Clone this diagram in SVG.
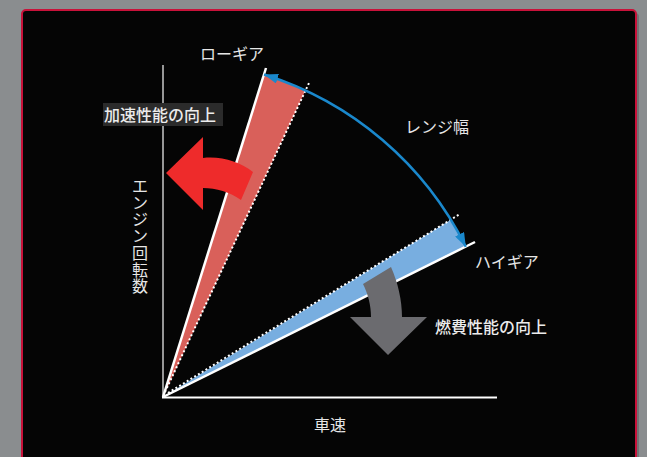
<svg xmlns="http://www.w3.org/2000/svg" width="647" height="457" viewBox="0 0 647 457">
<style>
.t{font-family:"Noto Sans CJK JP","Noto Sans",sans-serif;fill:#e6e6e6;font-size:16px}
.b{font-weight:500;fill:#ececec}
.dot{stroke:#ffffff;stroke-width:2;stroke-dasharray:2 2.4;fill:none}
.wl{stroke:#ffffff;stroke-width:2.5;fill:none}
</style>
<defs>
<marker id="ah" markerUnits="userSpaceOnUse" markerWidth="15" markerHeight="10" refX="14" refY="5" orient="auto-start-reverse">
<path d="M0,0 L14,5 L0,10 Z" fill="#1a88cc"/>
</marker>
</defs>
<rect x="0" y="0" width="647" height="457" fill="#8a8d8f"/>
<rect x="25" y="13" width="614" height="460" rx="4" fill="#707375"/>
<rect x="22" y="10" width="614" height="460" rx="4" fill="#050505" stroke="#c8123a" stroke-width="2"/>

<g id="axes">
<line x1="163" y1="65" x2="163" y2="398" stroke="#c8c8c8" stroke-width="1.5"/>
<line x1="162" y1="397.5" x2="497" y2="397.5" stroke="#ffffff" stroke-width="2"/>
</g>

<g id="low-gear">
<path d="M163,397 L264.1,74.5 A338 338 0 0 1 305.5,90.5 Z" fill="#d9605a"/>
<line class="wl" x1="163" y1="397" x2="266" y2="68"/>
<line class="dot" x1="165" y1="392" x2="309" y2="83"/>
</g>

<g id="high-gear">
<path d="M163,397 L450.8,219.7 A338 338 0 0 1 465.8,246.7 Z" fill="#78aee0"/>
<line class="wl" x1="163" y1="397" x2="475" y2="242"/>
<line class="dot" x1="168" y1="393" x2="460" y2="214"/>
</g>

<g id="connectors">
<path d="M264.1,74.5 A338 338 0 0 1 465.8,246.7" fill="none" stroke="#1a88cc" stroke-width="2.5" marker-start="url(#ah)" marker-end="url(#ah)"/>
</g>

<g id="accel-arrow">
<path d="M166,173 L203,137 L203,158 C222,156 240,162 253,172 L241,200 C230,192 216,188 203,188 L203,210 Z" fill="#ee2b2b"/>
</g>

<g id="fuel-arrow">
<path d="M363,284 L391,267 C398,283 402,300 402,317 L427,317 L388,355 L350,317 L371,317 C371,305 368,294 363,284 Z" fill="#6b6b6f"/>
</g>

<g id="label-low"><text class="t" x="232" y="60" text-anchor="middle" font-size="15.5">ローギア</text></g>
<g id="label-accel">
<rect x="103" y="103" width="120" height="23" fill="#2b2b2b"/>
<text class="t b" x="104" y="121">加速性能の向上</text>
</g>
<g id="label-range"><text class="t" x="405" y="133">レンジ幅</text></g>
<g id="label-high"><text class="t" x="475" y="268" font-size="15.5">ハイギア</text></g>
<g id="label-fuel"><text class="t b" x="435" y="333" font-size="17">燃費性能の向上</text></g>
<g id="label-speed"><text class="t" x="330" y="431" text-anchor="middle">車速</text></g>
<g id="label-rpm">
<text class="t" text-anchor="middle">
<tspan x="140" y="192">エ</tspan><tspan x="140" dy="16.7">ン</tspan><tspan x="140" dy="16.7">ジ</tspan><tspan x="140" dy="16.7">ン</tspan><tspan x="140" dy="16.7">回</tspan><tspan x="140" dy="16.7">転</tspan><tspan x="140" dy="16.7">数</tspan>
</text>
</g>
</svg>
